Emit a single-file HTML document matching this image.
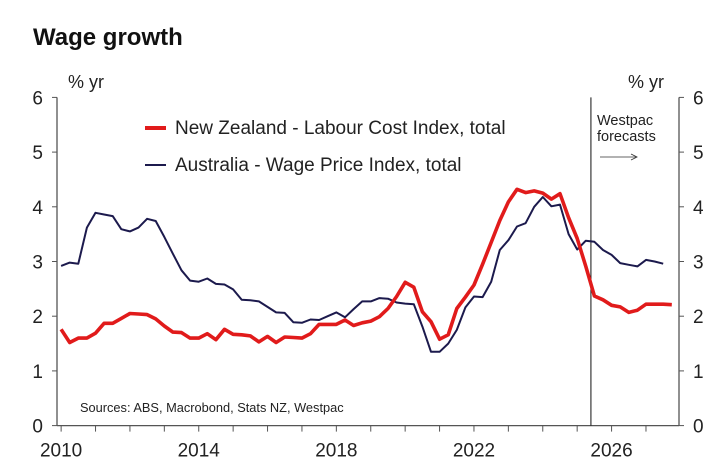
<!DOCTYPE html>
<html><head><meta charset="utf-8">
<style>
html,body{margin:0;padding:0;background:#fff;}
svg{display:block;font-family:"Liberation Sans",Arial,sans-serif;}
</style></head>
<body>
<svg id="chart" width="728" height="471" viewBox="0 0 728 471">
  <text x="33" y="45" font-size="24" font-weight="bold" fill="#111">Wage growth</text>
  <text x="68" y="88" font-size="18" fill="#222">% yr</text>
  <text x="628" y="88" font-size="18" fill="#222">% yr</text>
  <g id="axes"></g>
  <g id="series"></g>
  <g>
    <line x1="145" y1="128" x2="166" y2="128" stroke="#e11b1b" stroke-width="4"/>
    <text x="175" y="134" font-size="19" fill="#222">New Zealand - Labour Cost Index, total</text>
    <line x1="145" y1="165" x2="166" y2="165" stroke="#1c1a4d" stroke-width="2"/>
    <text x="175" y="171" font-size="19" fill="#222">Australia - Wage Price Index, total</text>
  </g>
  <g>
    <text x="597" y="125" font-size="14.5" fill="#222">Westpac</text>
    <text x="597" y="141" font-size="14.5" fill="#222">forecasts</text>
    <line x1="600" y1="157" x2="636" y2="157" stroke="#333" stroke-width="0.8"/>
    <path d="M631,154 L637,157 L631,160" fill="none" stroke="#333" stroke-width="0.8"/>
  </g>
  <text x="80" y="412" font-size="12.8" fill="#222">Sources: ABS, Macrobond, Stats NZ, Westpac</text>
</svg>
<script>
const xTickYears = [2010, 2014, 2018, 2022, 2026];
const yTicks = [0, 1, 2, 3, 4, 5, 6];
const nzStart = 2010;
const nzValues = [
1.76,1.52,1.60,1.60, 1.69,1.87,1.87,1.96, 2.05,2.04,2.03,1.95, 1.82,1.71,1.70,1.60,
1.60,1.68,1.57,1.76, 1.67,1.66,1.64,1.53, 1.63,1.52,1.62,1.61, 1.60,1.68,1.85,1.85,
1.85,1.93,1.83,1.88, 1.91,1.99,2.14,2.36, 2.62,2.53,2.08,1.90, 1.58,1.66,2.14,2.35,
2.57,2.95,3.35,3.75, 4.09,4.32,4.26,4.29, 4.25,4.14,4.24,3.80, 3.42,2.91,2.37,2.30,
2.20,2.17,2.07,2.11, 2.22,2.22,2.22,2.21];
const auStart = 2010;
const auValues = [
2.92,2.98,2.96,3.62, 3.89,3.86,3.83,3.59, 3.55,3.62,3.78,3.74, 3.45,3.14,2.84,2.65,
2.63,2.69,2.59,2.58, 2.49,2.30,2.29,2.27, 2.17,2.07,2.06,1.89, 1.88,1.94,1.93,2.00,
2.07,1.98,2.13,2.27, 2.27,2.33,2.32,2.25, 2.23,2.22,1.81,1.35, 1.35,1.50,1.75,2.16,
2.36,2.35,2.63,3.21, 3.39,3.64,3.70,4.00, 4.18,4.01,4.04,3.50, 3.22,3.38,3.36,3.21,
3.12,2.97,2.94,2.91, 3.03,3.00,2.96];
const forecastStart = 2025.4;

const NS = "http://www.w3.org/2000/svg";
const X0 = 57, X1 = 679, Y0 = 425.6, Y6 = 97.4;
const xMin = 2009.88, xMax = 2027.96;
function xs(t){ return X0 + (t - xMin) / (xMax - xMin) * (X1 - X0); }
function ys(v){ return Y0 - v / 6 * (Y0 - Y6); }
function mk(tag, attrs, parent){ const e = document.createElementNS(NS, tag); for (const k in attrs) e.setAttribute(k, attrs[k]); parent.appendChild(e); return e; }

const axes = document.getElementById('axes');
const series = document.getElementById('series');

let e = mk('line', {x1:X0, y1:Y6, x2:X0, y2:Y0, stroke:'#555', 'stroke-width':1.3}, axes);


e = mk('line', {x1:X1, y1:Y6, x2:X1, y2:Y0, stroke:'#555', 'stroke-width':1.3}, axes);


e = mk('line', {x1:X0, y1:Y0, x2:X1, y2:Y0, stroke:'#555', 'stroke-width':1.3}, axes);



yTicks.forEach(v => {
  const y = ys(v);
  mk('line', {x1:X0-5, y1:y, x2:X0, y2:y, stroke:'#555', 'stroke-width':1}, axes);
  mk('line', {x1:X1, y1:y, x2:X1+5, y2:y, stroke:'#555', 'stroke-width':1}, axes);
  let t = mk('text', {x:X0-14, y:y+7, 'font-size':19, fill:'#222', 'text-anchor':'end'}, axes);
  t.textContent = v;
  
  
  t = mk('text', {x:X1+14, y:y+7, 'font-size':19, fill:'#222'}, axes);
  t.textContent = v;
  
  
});

for (let yr = 2010; yr <= 2027; yr++) {
  const x = xs(yr);
  mk('line', {x1:x, y1:Y0, x2:x, y2:Y0+6, stroke:'#555', 'stroke-width':1}, axes);
}
xTickYears.forEach(yr => {
  const t = mk('text', {x:xs(yr), y:Y0+31, 'font-size':19, fill:'#222', 'text-anchor':'middle'}, axes);
  t.textContent = yr;
  
  
});

e = mk('line', {x1:xs(forecastStart), y1:Y6, x2:xs(forecastStart), y2:Y0, stroke:'#111', 'stroke-width':1}, axes);



function pathFor(vals, start){ return vals.map((v,i) => (i ? 'L' : 'M') + xs(start + i*0.25).toFixed(1) + ',' + ys(v).toFixed(1)).join(' '); }
e = mk('path', {d:pathFor(auValues, auStart), fill:'none', stroke:'#1c1a4d', 'stroke-width':2, 'stroke-linejoin':'round'}, series);


e = mk('path', {d:pathFor(nzValues, nzStart), fill:'none', stroke:'#e11b1b', 'stroke-width':3.6, 'stroke-linejoin':'round'}, series);


</script>
</body></html>
